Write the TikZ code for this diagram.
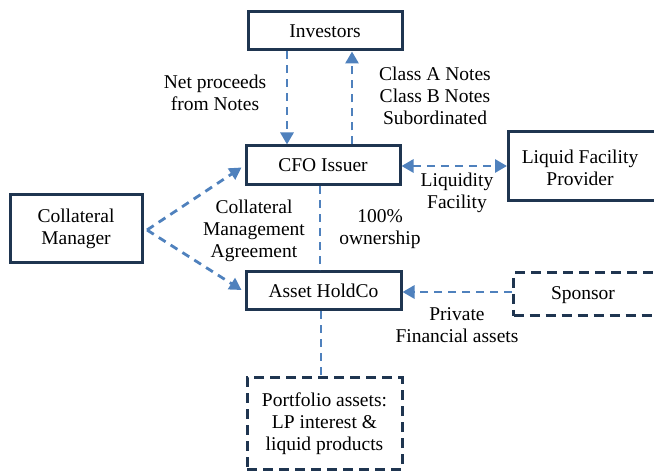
\documentclass[tikz,border=0pt]{standalone}
\usepackage{fontspec}
\setmainfont{Liberation Serif}
\usetikzlibrary{arrows.meta,calc}
\definecolor{boxc}{HTML}{1F3550}
\definecolor{arrc}{HTML}{4F81BD}
\tikzset{
  txt/.style={font=\fontsize{19.5}{22}\selectfont, align=center, text=black, inner sep=0pt},
  solidbox/.style={txt, draw=boxc, line width=3pt, rectangle},
  dashbox/.style={txt, draw=boxc, line width=3pt, rectangle, dash pattern=on 10pt off 6pt},
  conn/.style={draw=arrc, line width=2.8pt, dash pattern=on 8pt off 6pt},
  arr/.style={conn, -{Triangle[length=12pt,width=13pt]}},
  darr/.style={conn, {Triangle[length=12pt,width=13pt]}-{Triangle[length=12pt,width=13pt]}},
}
\begin{document}
\begin{tikzpicture}[x=1pt,y=-1pt]
\useasboundingbox (0,0) rectangle (654,473);
\clip (0,0) rectangle (654,473);
% boxes
\node[solidbox, minimum width=154pt, minimum height=38pt] (inv) at (325,31) {Investors};
\node[solidbox, minimum width=154pt, minimum height=39pt] (cfo) at (323,165.5) {CFO Issuer};
\node[solidbox, minimum width=160pt, minimum height=69pt, anchor=west] (lfp) at (507,166.5) {};
\node[txt] (lfpt) at (580,168) {Liquid Facility\\Provider};
\node[solidbox, minimum width=132pt, minimum height=68pt] (cm) at (76,229) {Collateral\\Manager};
\node[solidbox, minimum width=155pt, minimum height=38pt] (hold) at (323.5,291) {Asset HoldCo};
\node[dashbox, minimum width=160pt, minimum height=43pt, anchor=west] (spo) at (512,294.5) {};
\node[txt] (spot) at (583,295) {Sponsor};
\node[dashbox, minimum width=155pt, minimum height=91pt] (port) at (324.5,423.5) {Portfolio assets:\\LP interest \&\\liquid products};
% connectors
\coordinate (cmtip) at (147,230);
\draw[arr] (inv.south -| 287,0) -- (cfo.north -| 287,0);
\draw[arr] (cfo.north -| 352,0) -- (inv.south -| 352,0);
\draw[darr] (cfo.east |- 0,166) -- (lfp.west |- 0,166);
\draw[arr] (cmtip) -- ($(cfo.west)+(-3,2)$);
\draw[arr] (cmtip) -- ($(hold.west)+(-3,-1)$);
\draw[conn] (cfo.south -| 320,0) -- (hold.north -| 320,0);
\draw[arr] (spo.west |- 0,292) -- (hold.east |- 0,292);
\draw[conn] (hold.south -| 321,0) -- (port.north -| 321,0);
% labels
\node[txt] (l1) at (215,93) {Net proceeds\\from Notes};
\node[txt] (l2) at (435,96) {Class A Notes\\Class B Notes\\Subordinated};
\node[txt] (l3) at (457,192.5) {Liquidity\\Facility};
\node[txt] (l4) at (380,229) {100\%\\ownership};
\node[txt] (l5) at (254,231) {Collateral\\Management\\Agreement};
\node[txt] (l6) at (457,325) {Private\\Financial assets};
\end{tikzpicture}
\end{document}
